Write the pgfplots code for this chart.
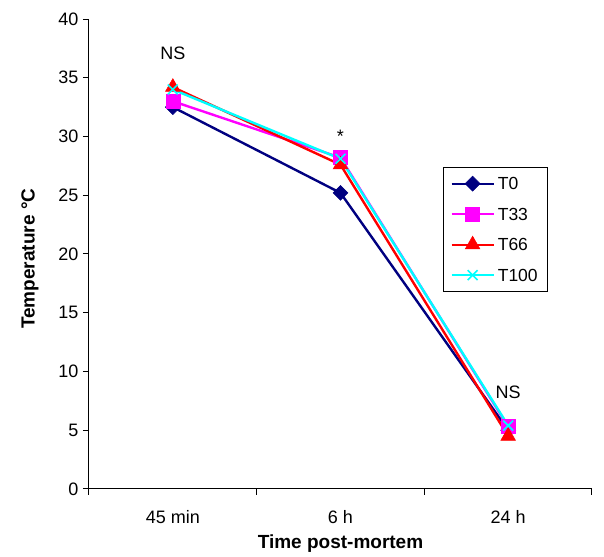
\documentclass[border=0pt]{standalone}
\usepackage{pgfplots}
\pgfplotsset{compat=1.18}
\usepackage{fontspec}
\setmainfont{Liberation Sans}
\definecolor{tnavy}{RGB}{0,0,128}
\definecolor{tmag}{RGB}{255,0,255}
\definecolor{tred}{RGB}{255,0,0}
\definecolor{tcyan}{RGB}{0,255,255}
\begin{document}
\begin{tikzpicture}
\begin{axis}[
  scale only axis,
  width=503pt, height=470pt,
  xmin=0, xmax=3, ymin=0, ymax=40,
  axis lines=left,
  axis line style={-, black, line width=1pt},
  xtick={0,1,2,3},
  xticklabels={},
  extra x ticks={0.5,1.5,2.5},
  extra x tick labels={45 min,6 h,24 h},
  extra x tick style={major tick length=0pt,
    xticklabel style={anchor=center, yshift=-28pt}},
  ytick={0,5,...,40},
  tick align=outside,
  major tick length=6pt,
  tick style={black, line width=1pt},
  /pgf/number format/assume math mode=true,
  tick label style={font=\fontsize{18}{20}\selectfont},
  yticklabel style={xshift=-1pt},
  xlabel={\textbf{Time post-mortem}},
  ylabel={\textbf{Temperature °C}},
  label style={font=\fontsize{19}{21}\selectfont},
  xlabel style={at={(axis description cs:0.5,-0.1165)}, anchor=center},
  ylabel style={at={(axis description cs:-0.1173,0.49)}, anchor=center},
  legend style={at={(0.7038,0.685)}, anchor=north west, draw=black,
    line width=0.8pt,
    font=\fontsize{17.5}{19}\selectfont, inner sep=7pt, row sep=12pt,
    nodes={inner sep=3pt, text height=12.5pt, text depth=0pt},
    cells={anchor=west}},
  legend image code/.code={
    \draw[mark repeat=2, mark phase=2, #1]
      plot coordinates {(0pt,0pt) (21pt,0pt) (42pt,0pt)};},
  every axis plot/.append style={line width=2.4pt},
  clip=false,
]
\addplot[tnavy, mark=square*, mark size=5.3pt,
  mark options={rotate=45, line width=0.5pt}]
  coordinates {(0.5,32.5)(1.5,25.2)(2.5,5.0)};
\addlegendentry{T0}
\addplot[tmag, mark=square*, mark size=7pt, mark options={line width=0.5pt}]
  coordinates {(0.5,33.0)(1.5,28.2)(2.5,5.3)};
\addlegendentry{T33}
\addplot[tred, mark=triangle*, mark size=8.5pt, mark options={line width=0.5pt}]
  coordinates {(0.5,34.2)(1.5,27.6)(2.5,4.5)};
\addlegendentry{T66}
\addplot[tcyan, mark=x, mark size=7pt, mark options={line width=1.6pt}]
  coordinates {(0.5,34.0)(1.5,28.1)(2.5,5.4)};
\addlegendentry{T100}
\node[font=\fontsize{18}{20}\selectfont] at (axis cs:0.5,37.1) {NS};
\node[font=\fontsize{18}{20}\selectfont] at (axis cs:1.5,30.0) {*};
\node[font=\fontsize{18}{20}\selectfont] at (axis cs:2.5,8.26) {NS};
\coordinate (bl) at (rel axis cs:-0.17694,-0.14468);
\coordinate (tr) at (rel axis cs:1.02386,1.04043);
\end{axis}
\pgfresetboundingbox
\path[use as bounding box] (bl) rectangle (tr);
\end{tikzpicture}
\end{document}
